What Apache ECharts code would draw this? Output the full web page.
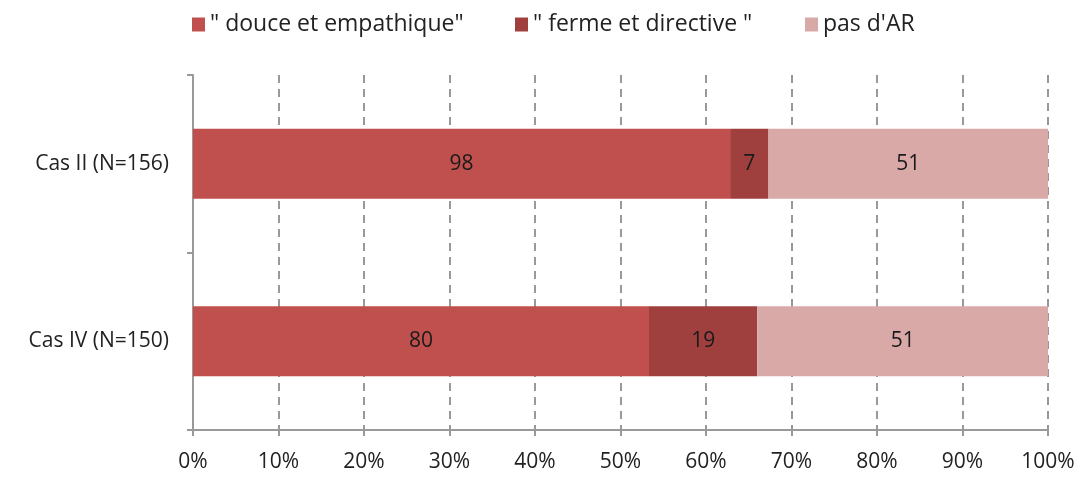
<!DOCTYPE html>
<html>
<head>
<meta charset="utf-8">
<script src="https://cdn.jsdelivr.net/npm/echarts@6/dist/echarts.min.js"></script>
<style>
  html, body { margin: 0; padding: 0; background: #fff; }
  #chart { width: 1085px; height: 479px; }
</style>
</head>
<body>
<div id="chart"></div>
<script>
const categories = ['Cas II (N=156)', 'Cas IV (N=150)']
const totals = [156, 150]
const douce = [98, 80]
const ferme = [7, 19]
const pasAR = [51, 51]
const seriesNames = ['" douce et empathique"', '" ferme et directive "', "pas d'AR"]
const xTicks = [0, 10, 20, 30, 40, 50, 60, 70, 80, 90, 100]

// turn counts into shares of 100 so the bars fill the axis
function share(counts) {
  return counts.map((v, i) => ({ value: v / totals[i] * 100, count: v }))
}

const font = 'Open Sans, Liberation Sans, sans-serif'
const labelCfg = {
  show: true,
  position: 'inside',
  color: '#1a1a1a',
  fontSize: 21,
  fontFamily: font,
  formatter: p => p.data.count
}

// one legend per entry so each sits where the original has it
const legendLeft = [187, 510, 800]
const legends = seriesNames.map((name, i) => ({
  data: [name],
  top: 8,
  left: legendLeft[i],
  itemWidth: 13,
  itemHeight: 14,
  itemGap: 8,
  icon: 'rect',
  textStyle: { fontSize: 23, fontFamily: font, color: '#222' }
}))

const chart = echarts.init(document.getElementById('chart'))
chart.setOption({
  animation: false,
  legend: legends,
  grid: { left: 193, right: 37, top: 75, bottom: 49 },
  xAxis: {
    type: 'value',
    min: 0,
    max: 100,
    interval: 10,
    axisLine: { show: true, lineStyle: { color: '#999', width: 2 } },
    axisTick: { show: true, length: 6, lineStyle: { color: '#999', width: 2 } },
    axisLabel: {
      margin: 22,
      fontSize: 21,
      fontFamily: font,
      color: '#222',
      formatter: v => xTicks.includes(v) ? v + '%' : ''
    },
    splitLine: { show: true, lineStyle: { color: '#999', type: [8, 6], width: 2 } }
  },
  yAxis: {
    type: 'category',
    inverse: true,
    data: categories,
    axisLine: { show: true, lineStyle: { color: '#999', width: 2 } },
    axisTick: { show: true, length: 6, lineStyle: { color: '#999', width: 2 } },
    axisLabel: { margin: 24, fontSize: 21, fontFamily: font, color: '#222' }
  },
  series: [
    {
      name: seriesNames[0],
      type: 'bar',
      stack: 'total',
      barWidth: 70,
      itemStyle: { color: '#C0504D' },
      label: labelCfg,
      data: share(douce)
    },
    {
      name: seriesNames[1],
      type: 'bar',
      stack: 'total',
      itemStyle: { color: '#A0403E' },
      label: labelCfg,
      data: share(ferme)
    },
    {
      name: seriesNames[2],
      type: 'bar',
      stack: 'total',
      itemStyle: { color: '#D9A9A8' },
      label: labelCfg,
      data: share(pasAR)
    }
  ]
})
</script>
</body>
</html>
